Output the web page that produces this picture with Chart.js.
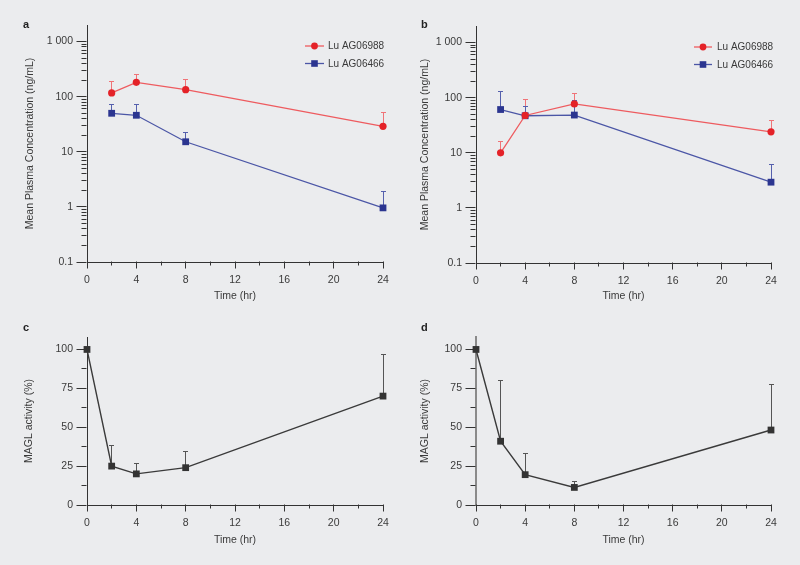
<!DOCTYPE html>
<html><head><meta charset="utf-8">
<script src="https://cdn.jsdelivr.net/npm/chart.js@4"></script>
<style>
html,body{margin:0;padding:0;background:#ebecee;}
#wrap{position:relative;width:800px;height:565px;background:#ebecee;overflow:hidden;font-family:"Liberation Sans",Arial,sans-serif;}
.pane{position:absolute;}
.pane canvas{display:block;}
.lbl{position:absolute;font-weight:bold;font-size:11px;line-height:13px;color:#222;}
</style></head><body>
<div id="wrap">
  <div class="pane" style="left:0;top:0;"><canvas id="ca" width="400" height="305"></canvas></div>
  <div class="pane" style="left:400px;top:0;"><canvas id="cb" width="400" height="305"></canvas></div>
  <div class="pane" style="left:0;top:305px;"><canvas id="cc" width="400" height="260"></canvas></div>
  <div class="pane" style="left:400px;top:305px;"><canvas id="cd" width="400" height="260"></canvas></div>
  <div class="lbl" style="left:23px;top:18px;">a</div>
  <div class="lbl" style="left:421px;top:18px;">b</div>
  <div class="lbl" style="left:23px;top:321px;">c</div>
  <div class="lbl" style="left:421px;top:321px;">d</div>
</div>
<script>
// ---- data ----
const timePK = [2, 4, 8, 24];
const aAG06988 = [117, 182, 134, 29];
const aAG06988Upper = [186, 254, 204, 52];
const aAG06466 = [50, 46, 15.2, 0.96];
const aAG06466Upper = [72, 71, 22.8, 1.87];
const bAG06988 = [10, 47.6, 77, 24];
const bAG06988Upper = [16.3, 91, 117, 38.6];
const bAG06466 = [61, 47, 48.4, 2.93];
const bAG06466Upper = [130, 70, 89, 6.2];
const timeMAGL = [0, 2, 4, 8, 24];
const cMAGL = [100, 25, 20, 24, 70];
const cMAGLUpper = [100, 38, 27, 34.5, 96.6];
const dMAGL = [100, 41, 19.5, 11.3, 48.2];
const dMAGLUpper = [100, 80, 32.8, 14.8, 77.7];
const seriesNames = ['Lu AG06988', 'Lu AG06466'];
const xTicks = [0, 4, 8, 12, 16, 20, 24];
const xMinorTicks = [2, 6, 10, 14, 18, 22];
const logTicks = [0.1, 1, 10, 100, 1000];
const logTickLabels = ['0.1', '1', '10', '100', '1 000'];
const logMinorTicks = [];
[0.1, 1, 10, 100].forEach(d => { for (let k = 2; k <= 9; k++) logMinorTicks.push(d * k); });
const pctTicks = [0, 25, 50, 75, 100];
const pctMinorTicks = [12.5, 37.5, 62.5, 87.5];

const FONT = '"Liberation Sans", Arial, sans-serif';
const TXT = '#3a3a3a';
const RED = '#e42228', RED_LINE = '#ee5b5f', RED_ERR = '#f07377';
const BLUE = '#2b3590', BLUE_LINE = '#4b56a6', BLUE_ERR = '#5560ad';
const DARK = '#333333', DARK_LINE = '#3a3a3a', DARK_ERR = '#555555';

const deco = {};

function pts(xs, ys) { return xs.map((t, i) => ({ x: t, y: ys[i] })); }
function seg(ctx, x1, y1, x2, y2) { ctx.beginPath(); ctx.moveTo(x1, y1); ctx.lineTo(x2, y2); ctx.stroke(); }
function al(v) { return Math.round(v - 0.5) + 0.5; }

const decoPlugin = {
  id: 'deco',
  beforeDatasetsDraw(chart) {
    const ctx = chart.ctx, ys = chart.scales.y;
    ctx.save();
    chart.data.datasets.forEach((ds, i) => {
      const meta = chart.getDatasetMeta(i);
      ctx.strokeStyle = ds.errColor; ctx.lineWidth = 1;
      meta.data.forEach((p, j) => {
        const up = ys.getPixelForValue(ds.errUpper[j]);
        if (p.y - up > 1) {
          const px = al(p.x);
          seg(ctx, px, p.y, px, up);
          seg(ctx, px - 2.5, al(up), px + 2.5, al(up));
        }
      });
    });
    ctx.restore();
  },
  afterDraw(chart) {
    const cfg = deco[chart.canvas.id];
    const ctx = chart.ctx, xs = chart.scales.x, ys = chart.scales.y;
    const ca = chart.chartArea;
    ctx.save();
    ctx.strokeStyle = '#333'; ctx.lineWidth = 1;
    const bY = al(ca.bottom - 0.5) ; const lX = al(ca.left - 0.5);
    xTicks.forEach(v => { const px = al(xs.getPixelForValue(v)); seg(ctx, px, bY, px, bY + 7); });
    xMinorTicks.forEach(v => { const px = al(xs.getPixelForValue(v)); seg(ctx, px, bY, px, bY + 4); });
    cfg.yMajor.forEach(v => { const py = al(ys.getPixelForValue(v)); seg(ctx, lX - 10, py, lX, py); });
    cfg.yMinor.forEach(v => { const py = al(ys.getPixelForValue(v)); seg(ctx, lX - 5, py, lX, py); });
    if (cfg.legend) {
      const L = cfg.legend;
      chart.data.datasets.forEach((ds, i) => {
        const y = L.y + i * L.dy;
        ctx.strokeStyle = ds.borderColor; ctx.lineWidth = ds.borderWidth;
        seg(ctx, L.x0, y, L.x1, y);
        ctx.fillStyle = ds.pointBackgroundColor;
        const mx = (L.x0 + L.x1) / 2;
        ctx.beginPath();
        if (ds.pointStyle === 'circle') { ctx.arc(mx, y, 3.4, 0, Math.PI * 2); }
        else { ctx.rect(mx - 3.3, y - 3.3, 6.6, 6.6); }
        ctx.fill();
        ctx.fillStyle = TXT; ctx.font = '10px ' + FONT; ctx.textBaseline = 'middle'; ctx.textAlign = 'left';
        ctx.fillText(ds.label, L.tx, y + 0.5);
      });
    }
    ctx.restore();
  }
};

function makeChart(id, g, datasets, logY, yTitle) {
  const W = 400, H = g.h;
  deco[id] = { yMajor: logY ? logTicks : pctTicks, yMinor: logY ? logMinorTicks : pctMinorTicks, legend: g.legend };
  const yScale = logY ? {
    type: 'logarithmic', min: 0.1, max: 2000,
    afterBuildTicks: s => { s.ticks = logTicks.map(v => ({ value: v })); },
    ticks: { callback: v => { const i = logTicks.findIndex(t => Math.abs(t - v) < t * 1e-6); return i >= 0 ? logTickLabels[i] : ''; } }
  } : {
    type: 'linear', min: 0, max: 108,
    afterBuildTicks: s => { s.ticks = pctTicks.map(v => ({ value: v })); },
    ticks: { callback: v => String(v) }
  };
  Object.assign(yScale, {
    afterFit: s => { s.width = g.left; },
    grid: { display: true, drawOnChartArea: false, drawTicks: true, tickLength: 10, color: 'rgba(0,0,0,0)' },
    border: { display: true, color: g.yBorderColor || '#333', width: g.yBorderWidth || 1 },
    title: { display: true, text: yTitle, color: TXT, font: { size: 10.5, family: FONT }, padding: { top: g.yTitlePad, bottom: 0 } }
  });
  Object.assign(yScale.ticks, { padding: 4, color: TXT, font: { size: 10.5, family: FONT }, autoSkip: false });
  return new Chart(document.getElementById(id), {
    type: 'line',
    data: { datasets },
    options: {
      responsive: false, animation: false, devicePixelRatio: 1,
      layout: { padding: { left: 0, top: g.top, right: W - g.right, bottom: 0 } },
      plugins: { legend: { display: false }, tooltip: { enabled: false } },
      scales: {
        x: {
          type: 'linear', min: 0, max: 24,
          afterBuildTicks: s => { s.ticks = xTicks.map(v => ({ value: v })); },
          afterFit: s => { s.height = H - g.bottom; },
          grid: { display: true, drawOnChartArea: false, drawTicks: true, tickLength: 7, color: 'rgba(0,0,0,0)' },
          border: { display: true, color: '#333', width: 1 },
          ticks: { padding: 5, color: TXT, font: { size: 10.5, family: FONT }, maxRotation: 0, autoSkip: false },
          title: { display: true, text: 'Time (hr)', color: TXT, font: { size: 10.5, family: FONT }, padding: { top: 0, bottom: g.xTitlePad } }
        },
        y: yScale
      }
    },
    plugins: [decoPlugin]
  });
}

function pkSet(label, xs, ys, up, color, lineColor, errColor, style, r) {
  return {
    label, data: pts(xs, ys), errUpper: up, errColor,
    borderColor: lineColor, borderWidth: 1.3, pointStyle: style, pointRadius: r,
    pointBackgroundColor: color, pointBorderColor: color, pointBorderWidth: 0,
    tension: 0, clip: false, fill: false
  };
}

makeChart('ca', { h: 305, left: 87, right: 383, top: 25, bottom: 262, yTitlePad: 23.5, xTitlePad: 3,
  legend: { x0: 305, x1: 324, tx: 328, y: 46, dy: 17.5 } },
  [pkSet(seriesNames[0], timePK, aAG06988, aAG06988Upper, RED, RED_LINE, RED_ERR, 'circle', 3.6),
   pkSet(seriesNames[1], timePK, aAG06466, aAG06466Upper, BLUE, BLUE_LINE, BLUE_ERR, 'rect', 4.8)],
  true, 'Mean Plasma Concentration (ng/mL)');

makeChart('cb', { h: 305, left: 76, right: 371, top: 26, bottom: 263, yTitlePad: 19, xTitlePad: 3,
  legend: { x0: 294, x1: 312, tx: 317, y: 47, dy: 17.5 } },
  [pkSet(seriesNames[0], timePK, bAG06988, bAG06988Upper, RED, RED_LINE, RED_ERR, 'circle', 3.6),
   pkSet(seriesNames[1], timePK, bAG06466, bAG06466Upper, BLUE, BLUE_LINE, BLUE_ERR, 'rect', 4.8)],
  true, 'Mean Plasma Concentration (ng/mL)');

makeChart('cc', { h: 260, left: 87, right: 383, top: 32, bottom: 200, yTitlePad: 23.3, xTitlePad: 19 },
  [Object.assign(pkSet('MAGL', timeMAGL, cMAGL, cMAGLUpper, DARK, DARK_LINE, DARK_ERR, 'rect', 4.8), { borderWidth: 1.4 })],
  false, 'MAGL activity (%)');

makeChart('cd', { h: 260, left: 76, right: 371, top: 32, bottom: 200, yTitlePad: 19, xTitlePad: 19, yBorderColor: '#8a8a8a', yBorderWidth: 2 },
  [Object.assign(pkSet('MAGL', timeMAGL, dMAGL, dMAGLUpper, DARK, DARK_LINE, DARK_ERR, 'rect', 4.8), { borderWidth: 1.4 })],
  false, 'MAGL activity (%)');
</script>
</body></html>
